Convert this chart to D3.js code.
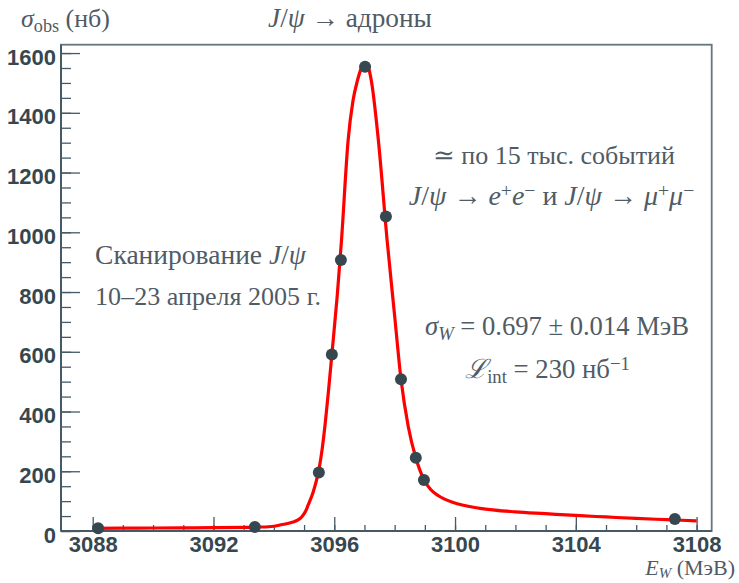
<!DOCTYPE html>
<html><head><meta charset="utf-8">
<script src="https://cdn.jsdelivr.net/npm/d3@7"></script>
<style>body{margin:0;background:#fff}svg{display:block}</style>
</head><body>
<svg id="chart" width="739" height="583"></svg>
<script>
// ---- data ----
const pointE     = [3088.18, 3093.37, 3095.49, 3095.92, 3096.22, 3097.02, 3097.71, 3098.21, 3098.70, 3098.97, 3107.28];
const pointSigma = [9, 13, 196, 591, 907, 1554, 1053, 508, 245, 171, 40];

const fitE     = [3088.0, 3089, 3090, 3091, 3092, 3093, 3093.5, 3094, 3094.2, 3094.45, 3094.64, 3094.8, 3094.92, 3095.05, 3095.14, 3095.3, 3095.4, 3095.5, 3095.6, 3095.7, 3095.8, 3095.92, 3096.1, 3096.24, 3096.46, 3096.62, 3096.76, 3096.9, 3097.02, 3097.13, 3097.24, 3097.46, 3097.75, 3098.0, 3098.21, 3098.45, 3098.7, 3098.97, 3099.2, 3099.45, 3099.94, 3100.83, 3102, 3103, 3104, 3105, 3106, 3107, 3108];
const fitSigma = [9, 9.5, 10, 10.5, 11, 12, 13, 16, 20, 25, 30, 37, 47, 66, 88, 130, 165, 210, 275, 360, 460, 590, 790, 974, 1309, 1440, 1505, 1550, 1566, 1552, 1500, 1309, 974, 720, 508, 350, 245, 172, 138, 118, 95, 76, 64, 58, 52, 47, 42, 38, 34];

const xMajorTicks = [3088, 3092, 3096, 3100, 3104, 3108];
const xMinorTicks = d3.range(3088, 3109, 1);
const yMajorTicks = [0, 200, 400, 600, 800, 1000, 1200, 1400, 1600];
const yMinorTicks = d3.range(0, 1601, 50);

// ---- layout ----
const L = 61, R = 711.7, T = 44.7, B = 531;
const x = d3.scaleLinear().domain([3086.95, 3108.5]).range([L, R]);
const y = d3.scaleLinear().domain([0, 1628]).range([B, T]);

const svg = d3.select("#chart");
const axisCol = "#455a64", textCol = "#37474f", noteCol = "#4f5b65";
const serif = "'Liberation Serif', 'DejaVu Serif', serif";
const sans = "'Liberation Sans', Arial, sans-serif";

// frame
svg.append("rect").attr("x", L).attr("y", T).attr("width", R - L).attr("height", B - T)
  .attr("fill", "none").attr("stroke", "#66767f").attr("stroke-width", 1.8);

// x axis
const gx = svg.append("g").attr("transform", `translate(0,${B})`);
gx.call(d3.axisBottom(x).tickValues(xMinorTicks).tickSize(-6).tickFormat(""));
gx.selectAll(".tick line").attr("stroke", axisCol).attr("stroke-width", 1.3);
const gxM = svg.append("g").attr("transform", `translate(0,${B})`);
gxM.call(d3.axisBottom(x).tickValues(xMajorTicks).tickSize(-14).tickFormat(d3.format("d")));
gxM.selectAll(".tick line").attr("stroke", axisCol).attr("stroke-width", 1.3);
gxM.selectAll("text").attr("dy", null).attr("y", 20.5).attr("fill", textCol)
  .attr("font-family", sans).attr("font-weight", "bold").attr("font-size", 22);
[gx, gxM].forEach(g => g.select(".domain").remove());
svg.append("line").attr("x1", L).attr("x2", R).attr("y1", B).attr("y2", B)
  .attr("stroke", axisCol).attr("stroke-width", 2);

// y axis
const gy = svg.append("g").attr("transform", `translate(${L},0)`);
gy.call(d3.axisLeft(y).tickValues(yMinorTicks).tickSize(-10).tickFormat(""));
gy.selectAll(".tick line").attr("stroke", axisCol).attr("stroke-width", 1.3);
const gyM = svg.append("g").attr("transform", `translate(${L},0)`);
gyM.call(d3.axisLeft(y).tickValues(yMajorTicks).tickSize(-19).tickPadding(5).tickFormat(d3.format("d")));
gyM.selectAll(".tick line").attr("stroke", axisCol).attr("stroke-width", 1.3);
gyM.selectAll("text").attr("dy", null).attr("y", 11).attr("fill", textCol)
  .attr("font-family", sans).attr("font-weight", "bold").attr("font-size", 22);
[gy, gyM].forEach(g => g.select(".domain").remove());
svg.append("line").attr("x1", L).attr("x2", L).attr("y1", T).attr("y2", B)
  .attr("stroke", axisCol).attr("stroke-width", 2);

// fit curve
const fitData = fitE.map((e, i) => [e, fitSigma[i]]);
svg.append("path").datum(fitData)
  .attr("d", d3.line().x(d => x(d[0])).y(d => y(d[1])).curve(d3.curveMonotoneX))
  .attr("fill", "none").attr("stroke", "#ff0000").attr("stroke-width", 3.2)
  .attr("stroke-linejoin", "round");

// points
svg.append("g").selectAll("circle").data(pointE.map((e, i) => [e, pointSigma[i]]))
  .join("circle").attr("cx", d => x(d[0])).attr("cy", d => y(d[1])).attr("r", 6)
  .attr("fill", "#37474f");

// ---- texts (font size fitted to target width, anchored at target centre) ----
function rich(xLeft, yp, parts, width, maxSize) {
  const t = svg.append("text").attr("x", xLeft + width / 2).attr("y", yp)
    .attr("text-anchor", "middle")
    .attr("font-family", serif).attr("font-size", 24).attr("fill", noteCol);
  parts.forEach(p => {
    const s = t.append("tspan").text(p.t);
    if (p.i) s.attr("font-style", "italic");
    if (p.sub) s.attr("baseline-shift", "-25%").attr("font-size", "0.7em");
    if (p.sup) s.attr("baseline-shift", "40%").attr("font-size", "0.7em");
  });
  const w = t.node().getComputedTextLength();
  if (w > 0) t.attr("font-size", Math.max(18, Math.min(maxSize || 28, 24 * width / w)));
  return t;
}
rich(21, 27, [{t: "σ", i: 1}, {t: "obs", sub: 1}, {t: " (нб)"}], 89);
rich(268, 27, [{t: "J", i: 1}, {t: "/"}, {t: "ψ", i: 1}, {t: " → адроны"}], 164);
// x-axis title
const ew = svg.append("text").attr("x", 735).attr("y", 575).attr("text-anchor", "end")
  .attr("font-family", serif).attr("font-size", 22).attr("fill", noteCol);
ew.append("tspan").text("E").attr("font-style", "italic");
ew.append("tspan").text("W").attr("font-style", "italic").attr("font-size", 15).attr("dy", 3);
ew.append("tspan").text(" (МэВ)").attr("dy", -3);

rich(433, 164, [{t: "≃ по 15 тыс. событий"}], 242);
rich(398, 205, [{t: "J", i: 1}, {t: "/"}, {t: "ψ", i: 1}, {t: " → "}, {t: "e", i: 1}, {t: "+", sup: 1}, {t: "e", i: 1}, {t: "−", sup: 1},
  {t: " и "}, {t: "J", i: 1}, {t: "/"}, {t: "ψ", i: 1}, {t: " → "}, {t: "μ", i: 1}, {t: "+", sup: 1}, {t: "μ", i: 1}, {t: "−", sup: 1}], 307);
rich(95, 264, [{t: "Сканирование "}, {t: "J", i: 1}, {t: "/"}, {t: "ψ", i: 1}], 211);
rich(95, 305, [{t: "10–23 апреля 2005 г."}], 226);
rich(425, 335, [{t: "σ", i: 1}, {t: "W", i: 1, sub: 1}, {t: " = 0.697 ± 0.014 МэВ"}], 264);
rich(465, 378, [{t: "ℒ", i: 1}, {t: "int", sub: 1}, {t: " = 230 нб"}, {t: "−1", sup: 1}], 165);
</script>
</body></html>
